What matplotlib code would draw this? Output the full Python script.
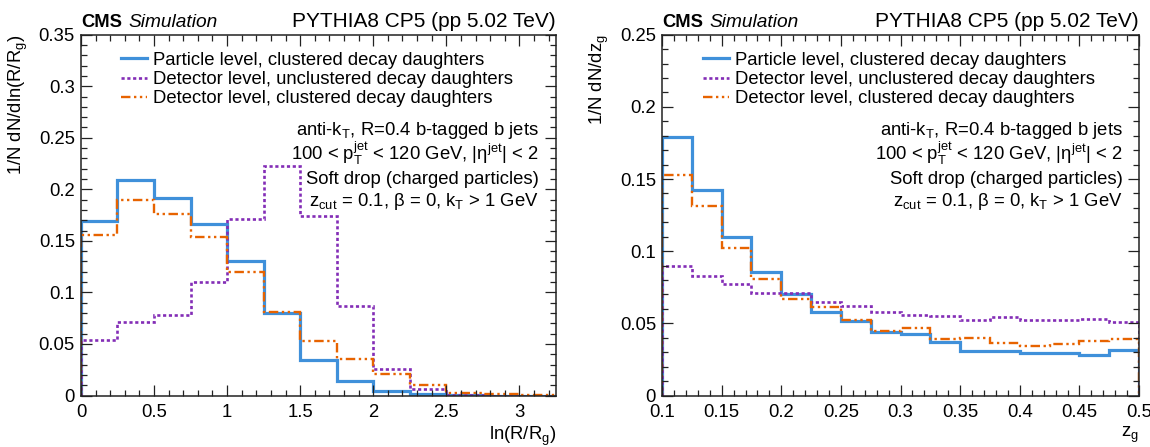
import numpy as np
import matplotlib
matplotlib.use("Agg")
import matplotlib.pyplot as plt
from matplotlib.ticker import MultipleLocator, FuncFormatter

plt.rcParams['font.family'] = ['Liberation Sans', 'DejaVu Sans']
plt.rcParams['mathtext.fontset'] = 'custom'
plt.rcParams['mathtext.rm'] = 'Liberation Sans'
plt.rcParams['mathtext.it'] = 'Liberation Sans:italic'
plt.rcParams['mathtext.bf'] = 'Liberation Sans:bold'

# ln(R/Rg) binning and normalised yields
lnr_edges = [0, 0.25, 0.5, 0.75, 1.0, 1.25, 1.5, 1.75, 2.0, 2.25, 2.5, 2.75, 3.0, 3.25]
lnr_part_clus = [0.169, 0.209, 0.192, 0.166, 0.130, 0.080, 0.0345, 0.0139, 0.0042, 0.0013, 0.0003, 0.0, 0.0]
lnr_det_unclus = [0.054, 0.071, 0.078, 0.110, 0.171, 0.223, 0.174, 0.087, 0.026, 0.006, 0.0005, 0.0, 0.0]
lnr_det_clus = [0.156, 0.190, 0.176, 0.154, 0.120, 0.081, 0.0526, 0.0358, 0.0213, 0.010, 0.002, 0.001, 0.0005]

# zg binning and normalised yields
zg_edges = [0.1, 0.125, 0.15, 0.175, 0.2, 0.225, 0.25, 0.275, 0.3,
            0.325, 0.35, 0.375, 0.4, 0.425, 0.45, 0.475, 0.5]
zg_part_clus = [0.1788, 0.1424, 0.110, 0.0855, 0.0703, 0.0578, 0.0518, 0.0440,
                0.0429, 0.0369, 0.0311, 0.0310, 0.0293, 0.0293, 0.0281, 0.0313]
zg_det_unclus = [0.0899, 0.0830, 0.0774, 0.0710, 0.0710, 0.0647, 0.0618, 0.0576,
                 0.0560, 0.0551, 0.0521, 0.0544, 0.0521, 0.0521, 0.0528, 0.0509]
zg_det_clus = [0.1528, 0.1310, 0.1020, 0.0806, 0.0670, 0.0613, 0.0525, 0.0447,
               0.0470, 0.0389, 0.0396, 0.0366, 0.0341, 0.0355, 0.0378, 0.0389]

labels = ['Particle level, clustered decay daughters',
          'Detector level, unclustered decay daughters',
          'Detector level, clustered decay daughters']
c_blue = '#3f90da'
c_purple = '#832db6'
c_orange = '#e76300'

FS = 13.3

info_lines = [r'anti-k$_{\mathrm{T}}$, R=0.4 b-tagged b jets',
              r'100 < p$_{\mathrm{T}}^{\mathrm{jet}}$ < 120 GeV, |η$^{\mathrm{jet}}$| < 2',
              'Soft drop (charged particles)',
              r'z$_{\mathrm{cut}}$ = 0.1, β = 0, k$_{\mathrm{T}}$ > 1 GeV']
info_y = [0.722, 0.652, 0.586, 0.525]


def fmt(v, pos):
    return '%g' % round(v, 4)


def style_axes(ax, xmaj, xmin, ymaj, ymin):
    ax.xaxis.set_major_locator(MultipleLocator(xmaj))
    ax.xaxis.set_minor_locator(MultipleLocator(xmin))
    ax.yaxis.set_major_locator(MultipleLocator(ymaj))
    ax.yaxis.set_minor_locator(MultipleLocator(ymin))
    ax.xaxis.set_major_formatter(FuncFormatter(fmt))
    ax.yaxis.set_major_formatter(FuncFormatter(fmt))
    ax.tick_params(which='both', direction='in', top=True, right=True,
                   labelsize=FS, width=0.9, color='#222222')
    ax.tick_params(which='major', length=8)
    ax.tick_params(which='minor', length=4)
    ax.tick_params(axis='x', pad=6)
    ax.tick_params(axis='y', pad=4.3)
    for s in ax.spines.values():
        s.set_linewidth(1.1)
        s.set_color('#222222')


def draw_panel(ax, edges, part, unclus, clus, xlim, ylim, xlabel, ylabel,
               ticks, leg_x, txt_x):
    ax.stairs(part, edges, color=c_blue, lw=2.3, label=labels[0])
    ax.stairs(unclus, edges, color=c_purple, lw=1.9, linestyle=(0, (1.2, 1.0)), label=labels[1])
    ax.stairs(clus, edges, color=c_orange, lw=1.7,
              linestyle=(0, (4.0, 1.5, 1.0, 1.5, 1.0, 1.5)), label=labels[2])
    ax.set_xlim(*xlim)
    ax.set_ylim(*ylim)
    ax.set_xlabel(xlabel, fontsize=FS, loc='right', labelpad=3)
    ax.set_ylabel(ylabel, fontsize=FS, loc='top', labelpad=6)
    ax.legend(loc='upper left', bbox_to_anchor=(leg_x, 0.953), frameon=False,
              fontsize=FS, handlelength=1.42, handletextpad=0.33, labelspacing=0.13,
              borderpad=0, borderaxespad=0)
    for line, y in zip(info_lines, info_y):
        ax.text(txt_x, y, line, transform=ax.transAxes,
                ha='right', va='baseline', fontsize=FS)
    ax.text(0.0, 1.022, 'CMS', transform=ax.transAxes, fontsize=13.2,
            fontweight='bold', ha='left', va='baseline')
    ax.text(0.0996, 1.022, 'Simulation', transform=ax.transAxes, fontsize=13.8,
            style='italic', ha='left', va='baseline')
    ax.text(1.0, 1.022, 'PYTHIA8 CP5 (pp 5.02 TeV)', transform=ax.transAxes,
            fontsize=15, ha='right', va='baseline')
    style_axes(ax, *ticks)


fig = plt.figure(figsize=(11.5, 4.47), dpi=100)
ax1 = fig.add_axes([0.0704, 0.1152, 0.4130, 0.8072])
ax2 = fig.add_axes([0.5757, 0.1152, 0.4148, 0.8072])

draw_panel(ax1, lnr_edges, lnr_part_clus, lnr_det_unclus, lnr_det_clus,
           (0, 3.25), (0, 0.35), r'ln(R/R$_{\mathrm{g}}$)',
           r'1/N dN/dln(R/R$_{\mathrm{g}}$)', (0.5, 0.1, 0.05, 0.01), 0.084, 0.964)
draw_panel(ax2, zg_edges, zg_part_clus, zg_det_unclus, zg_det_clus,
           (0.1, 0.5), (0, 0.25), r'z$_{\mathrm{g}}$',
           r'1/N dN/dz$_{\mathrm{g}}$', (0.05, 0.01, 0.05, 0.01), 0.085, 0.966)

fig.savefig('out.png', dpi=100)
